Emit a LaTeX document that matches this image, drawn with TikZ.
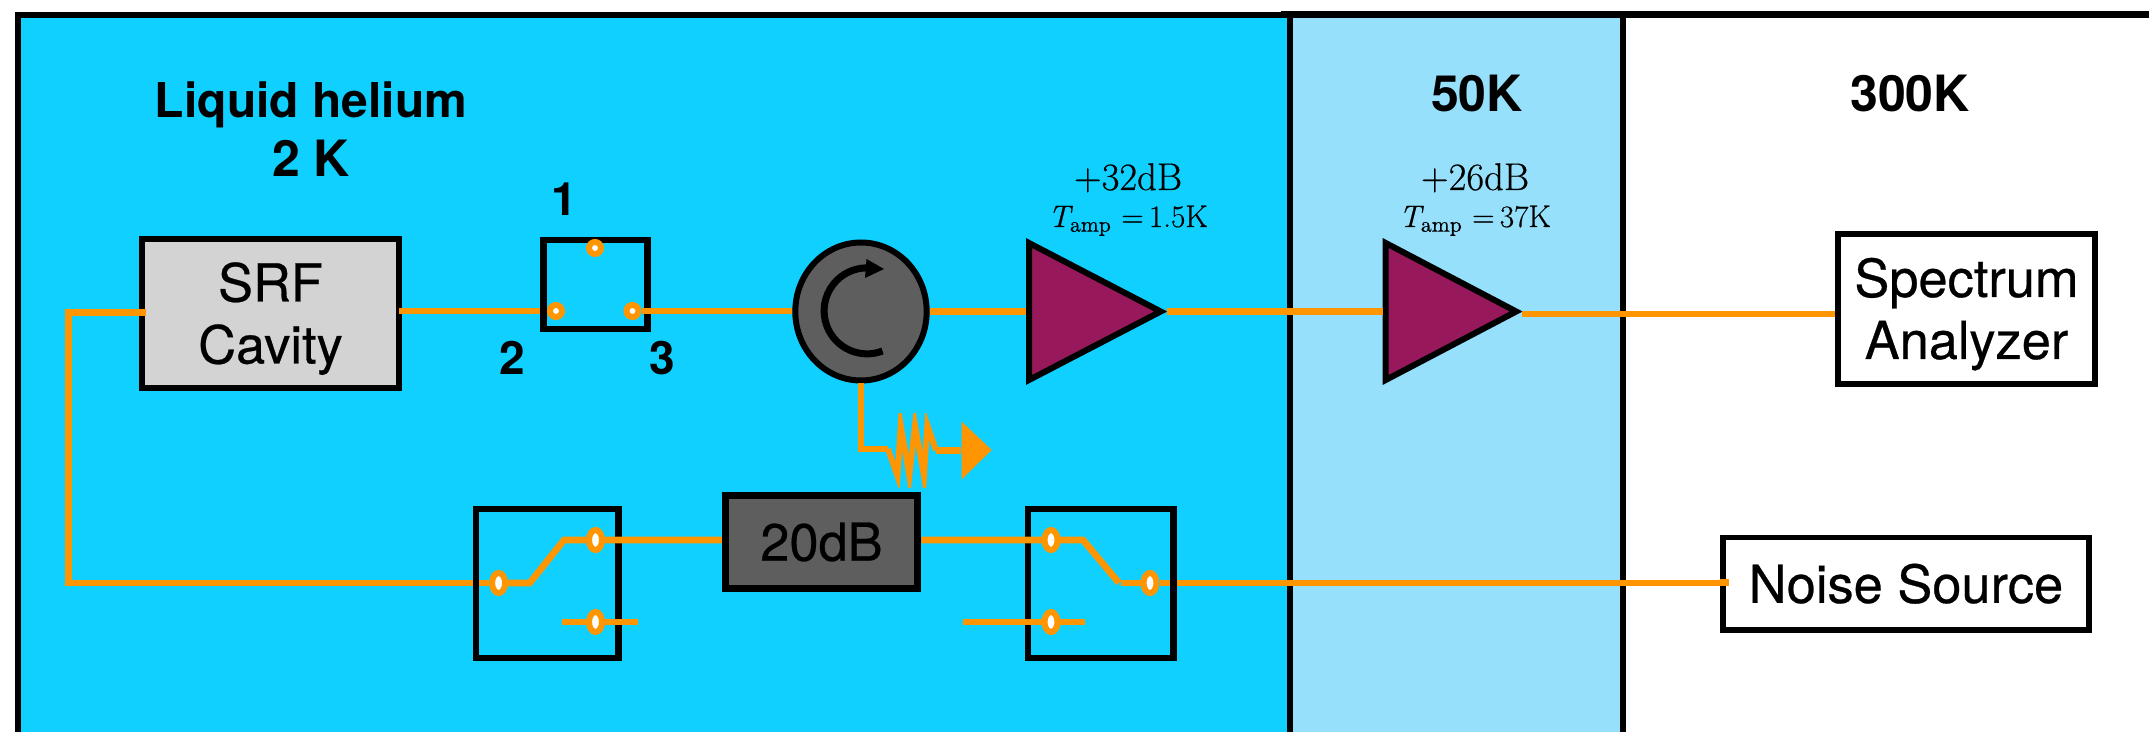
\documentclass[tikz,border=0pt]{standalone}
\usepackage[no-math]{fontspec}
\setmainfont{TeX Gyre Heros}
\newfontfamily\lmr[FakeBold=0.5]{Latin Modern Roman}
\newfontfamily\boxf[FakeBold=0.5]{TeX Gyre Heros}
\usetikzlibrary{shapes.geometric}
\definecolor{helium}{HTML}{0FD0FF}
\definecolor{fiftyk}{HTML}{96E0FB}
\definecolor{wirec}{HTML}{FF9500}
\definecolor{cavc}{HTML}{D3D3D3}
\definecolor{darkg}{HTML}{5E5E5E}
\definecolor{ampc}{HTML}{98195B}
\pgfdeclarelayer{zones}\pgfdeclarelayer{under}\pgfdeclarelayer{top}
\pgfsetlayers{zones,under,main,top}
\newcommand{\tl}{\rule{0pt}{24.7pt}}
\tikzset{
  x=0.5pt,y=-0.5pt,
  wire/.style={draw=wirec,line width=3.35pt,line cap=butt,line join=miter},
  border/.style={draw=black,line width=3pt},
  boxn/.style={draw=black,rectangle,inner sep=0pt,align=center,text=black},
  swbox/.style={boxn,line width=3.25pt},
  txt/.style={font=\boxf\fontsize{26.2}{31}\selectfont,align=center},
  hdr/.style={anchor=base,inner sep=0pt,font=\fontsize{25}{30}\bfseries\selectfont},
  hdrs/.style={anchor=base,inner sep=0pt,font=\fontsize{24}{30}\bfseries\selectfont},
  num/.style={anchor=base,inner sep=0pt,font=\fontsize{23}{28}\bfseries\selectfont},
  ampn/.style={draw=black,fill=ampc,line width=3pt,line join=miter},
  ampt/.style={anchor=base,inner sep=0pt,font=\lmr\fontsize{19.3}{20}\selectfont},
  tmpt/.style={anchor=base,inner sep=0pt,font=\lmr\fontsize{15.6}{16}\selectfont},
  dotS/.style={ellipse,draw=wirec,fill=white,line width=3pt,minimum width=6pt,minimum height=6pt,inner sep=0pt},
  dotL/.style={ellipse,draw=wirec,fill=white,line width=3pt,minimum width=6.5pt,minimum height=10pt,inner sep=0pt},
}
\newcommand{\tamp}[1]{{\itshape T}\raisebox{-0.35ex}{\fontsize{10.8}{12}\selectfont amp}\,\,=\,#1K}
\begin{document}
\begin{tikzpicture}
\useasboundingbox (0,0) rectangle (2149,732);
\begin{pgfonlayer}{zones}
  \fill[white] (0,0) rectangle (2149,732);
  \fill[helium] (18,15) rectangle (1290,740);
  \fill[fiftyk] (1290,15) rectangle (1622.5,740);
  \draw[border] (18,740) -- (18,15) -- (1290,15);
  \draw[border,line width=3.5pt] (1281,14.5) -- (2152,14.5);
  \draw[border] (1290,15) -- (1290,740);
  \draw[border] (1622.5,15) -- (1622.5,740);
\end{pgfonlayer}

% headings
\node[hdrs] (lh) at (311,118) {Liquid helium};
\node[hdr] (lhk) at (311,177) {2 K};
\node[hdr] (t50) at (1477,112) {50K};
\node[hdr] (t300) at (1910,112) {300K};
\node[num] (n1) at (564,216) {1};
\node[num] (n2) at (512,375) {2};
\node[num] (n3) at (662,375) {3};
\node[ampt] (g1) at (1128,190) {+32dB};
\node[tmpt] (t1) at (1128,227) {\tamp{1.5}};
\node[ampt] (g2) at (1475,190) {+26dB};
\node[tmpt] (t2) at (1475,227) {\tamp{37}};

% boxes
\node[boxn,fill=cavc,line width=3pt,minimum width=128.5pt,minimum height=74.5pt,txt] (cavity) at (270.5,313.5) {\tl SRF\\Cavity};
\node[swbox,minimum width=52pt,minimum height=44.5pt] (sw1) at (595.5,284.5) {};
\node[swbox,minimum width=71.25pt,minimum height=74.5pt] (swL) at (547.25,583.5) {};
\node[swbox,minimum width=72.75pt,minimum height=74.5pt] (swR) at (1100.75,583.5) {};
\node[boxn,fill=darkg,line width=3.75pt,minimum width=96pt,minimum height=46.5pt,txt] (atten) at (821.5,542) {20dB};
\node[boxn,fill=white,line width=2.75pt,minimum width=128.5pt,minimum height=75pt,txt] (spec) at (1966.5,309) {\tl Spectrum\\Analyzer};
\node[boxn,fill=white,line width=2.75pt,minimum width=183pt,minimum height=46.25pt,txt] (noise) at (1906,583.75) {Noise Source};
\node[ellipse,draw=black,fill=darkg,line width=3pt,inner sep=0pt,minimum width=65.7pt,minimum height=69pt] (circ) at (861,311.5) {};

% circulator arrow
\coordinate (arcs) at (882.5,351);
\draw[line width=3.5pt,draw=black] (arcs) arc[start angle=-69,end angle=-270,radius=21.5pt];
\coordinate (ah1) at (866.5,259);
\coordinate (ah2) at (884,269);
\coordinate (ah3) at (865,278);
\fill[black] (ah1) -- (ah2) -- (ah3) -- cycle;

% amplifiers
\coordinate (a1t) at (1029,243);
\coordinate (a1b) at (1029,380);
\coordinate (a1in) at (1026,311.5);
\coordinate (a1out) at (1166.5,311.5);
\draw[ampn] (a1t) -- (1160.7,311.5) -- (a1b) -- cycle;
\coordinate (a2t) at (1385.7,243);
\coordinate (a2b) at (1385.7,380);
\coordinate (a2in) at (1382.7,311.5);
\coordinate (a2out) at (1522,314);
\draw[ampn] (a2t) -- (1516.2,311.5) -- (a2b) -- cycle;

% ports
\begin{pgfonlayer}{top}
  \node[dotS] (p1) at (595,248) {};
  \node[dotS] (p2) at (556,311) {};
  \node[dotS] (p3) at (632.5,311) {};
  \node[dotL] (l1) at (498.6,583) {};
  \node[dotL] (l2) at (595.5,540) {};
  \node[dotL] (l3) at (595.5,622) {};
  \node[dotL] (r1) at (1051,540) {};
  \node[dotL] (r2) at (1051,622) {};
  \node[dotL] (r3) at (1150,583) {};
\end{pgfonlayer}

% wires below the boxes
\coordinate (lc) at (68.7,312.3);
\begin{pgfonlayer}{under}
  \draw[wire] (cavity.east |- p2) -- (p2);
  \draw[wire] (cavity.west |- lc) -- (lc) |- (l1);
  \draw[wire] (r3) -- (noise.west |- r3);
\end{pgfonlayer}

% wires over the boxes
\coordinate (cwi) at (146,312.3);
\coordinate (cei) at (399.3,311);
\draw[wire] (cavity.west |- cwi) -- (cwi);
\draw[wire] (cei) -- (cavity.east |- cei);
\draw[wire] (p3) -- (circ.west |- p3);
\draw[wire] (circ.east) -- (a1in);
\draw[wire] (a1out) -- (a2in);
\draw[wire] (a2out) -- (spec.west |- a2out);
\coordinate (lk1) at (529.7,583);
\coordinate (lk2) at (564,540);
\draw[wire] (l1) -- (lk1) -- (lk2) -- (l2) -- (atten.west |- l2);
\coordinate (ls1) at (562,622);
\coordinate (ls2) at (638,622);
\draw[wire] (ls1) -- (ls2);
\coordinate (rk1) at (1083,540);
\coordinate (rk2) at (1119,583);
\draw[wire] (atten.east |- r1) -- (rk1) -- (rk2);
\draw[wire] (rk2) ++(2,0) -- (r3);
\coordinate (rs1) at (963.4,622);
\coordinate (rs2) at (1084.8,622);
\draw[wire] (rs1) -- (rs2);
\coordinate (nt) at (1729,582.5);
\draw[wire] (noise.west |- nt) -- (nt);

% dump resistor
\coordinate (rc) at (861,449);
\coordinate (rl) at (888,449);
\coordinate (rr) at (936,450.5);
\coordinate (rh) at (961,450.5);
\draw[wire] (circ.south) -- (rc) -- (rl);
\draw[wire] (rr) -- (rh);
\begin{scope}
  \clip (880,414) rectangle (945,487.3);
  \draw[wire,line width=2.9pt,miter limit=30] (rl) -- (897.5,476) -- (900.7,425) -- (909.3,476) -- (915,425) -- (924,476) -- (927.3,425) -- (rr);
\end{scope}
\coordinate (tipt) at (961.7,421.7);
\coordinate (tipa) at (991.7,450);
\coordinate (tipb) at (961.7,479.3);
\fill[wirec] (tipt) -- (tipa) -- (tipb) -- cycle;
\end{tikzpicture}
\end{document}
